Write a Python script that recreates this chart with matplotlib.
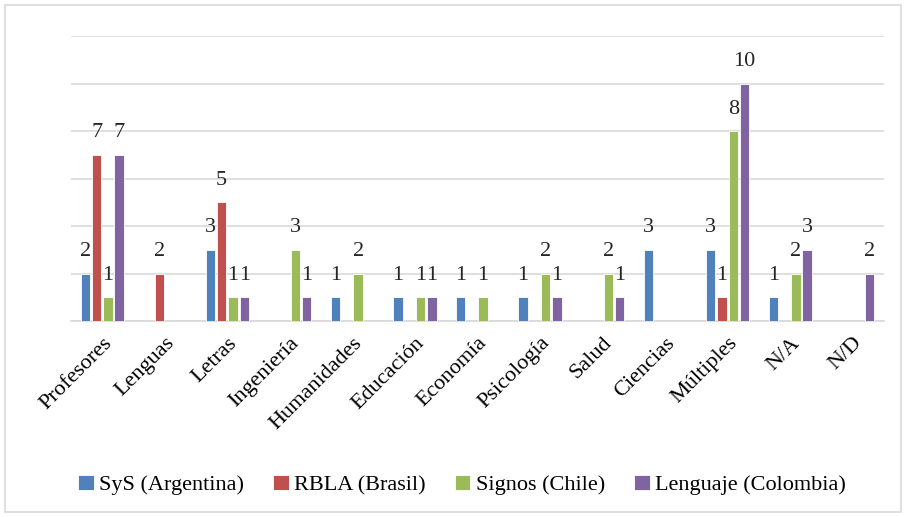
import numpy as np
import matplotlib.pyplot as plt
from matplotlib.patches import Rectangle

plt.rcParams['font.family'] = ['Liberation Serif', 'DejaVu Serif']

# Datos
categorias = ['Profesores', 'Lenguas', 'Letras', 'Ingeniería', 'Humanidades',
              'Educación', 'Economía', 'Psicología', 'Salud', 'Ciencias',
              'Múltiples', 'N/A', 'N/D']
sys_arg = [2, 0, 3, 0, 1, 1, 1, 1, 0, 3, 3, 1, 0]
rbla_bra = [7, 2, 5, 0, 0, 0, 0, 0, 0, 0, 1, 0, 0]
signos_chi = [1, 0, 1, 3, 2, 1, 1, 2, 2, 0, 8, 2, 0]
lenguaje_col = [7, 0, 1, 1, 0, 1, 0, 1, 1, 0, 10, 3, 2]
series_nombres = ['SyS (Argentina)', 'RBLA (Brasil)', 'Signos (Chile)', 'Lenguaje (Colombia)']
colores = ['#4F81BD', '#C0504D', '#9BBB59', '#8064A2']

series = [sys_arg, rbla_bra, signos_chi, lenguaje_col]

fig = plt.figure(figsize=(9.06, 5.17), dpi=100)
ax = fig.add_axes([0.0784, 0.379, 0.8973, 0.551])

x = np.arange(len(categorias))
ancho = 0.15
paso = 0.18
for k, (vals, nombre, col) in enumerate(zip(series, series_nombres, colores)):
    vals = np.array(vals, dtype=float)
    pos = x + (k - 1.5) * paso
    mask = vals > 0
    ax.bar(pos[mask], vals[mask], width=ancho, color=col, edgecolor='white',
           linewidth=0.6, label=nombre, zorder=3)
    for px, v in zip(pos[mask], vals[mask]):
        ax.annotate(f'{int(v)}', (px, v), xytext=(0, 9), textcoords='offset points',
                    ha='center', va='bottom', fontsize=16, color='#262626',
                    family='Liberation Serif')

ax.set_xlim(-0.5, len(categorias) - 0.5)
ax.set_ylim(0, 12)
ax.set_yticks(np.arange(0, 13, 2))
ax.set_yticklabels([])
ax.tick_params(axis='y', length=0)
ax.tick_params(axis='x', length=0, pad=9)
ax.grid(axis='y', color='#D9D9D9', linewidth=1.2, zorder=0)
for s in ['top', 'right', 'left']:
    ax.spines[s].set_visible(False)
ax.spines['bottom'].set_color('#D9D9D9')
ax.spines['bottom'].set_linewidth(1.2)

ax.set_xticks(x)
ax.set_xticklabels(categorias, rotation=45, ha='right', rotation_mode='anchor',
                   fontsize=16, family='Liberation Serif')

leg = fig.legend(loc='center', bbox_to_anchor=(0.51, 0.062), ncol=4, frameon=False,
                 prop={'family': 'Liberation Serif', 'size': 16},
                 handlelength=0.7, handleheight=0.7,
                 handletextpad=0.25, columnspacing=1.3)

# borde del grafico
fig.patches.append(Rectangle((0.006, 0.01), 0.988, 0.98, transform=fig.transFigure,
                             fill=False, edgecolor='#D9D9D9', linewidth=1.2))

fig.savefig('out.png', dpi=100)
